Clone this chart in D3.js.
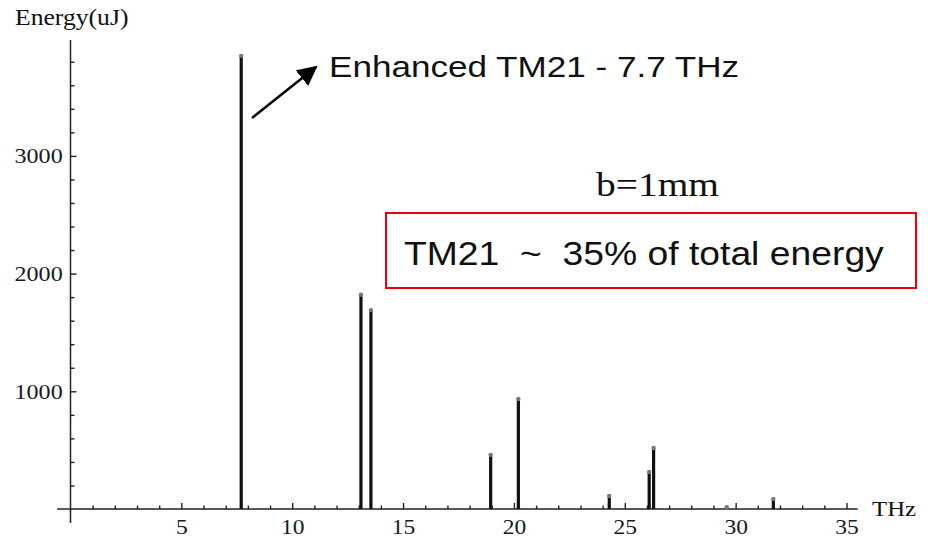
<!DOCTYPE html>
<html>
<head>
<meta charset="utf-8">
<script src="https://cdn.jsdelivr.net/npm/d3@7"></script>
<style>
  html, body { margin: 0; padding: 0; background: #fff; }
  svg { display: block; }
  text { white-space: pre; }
</style>
</head>
<body>
<script>
// ---- data ----
const freqs    = [7.7, 13.1, 13.55, 18.95, 20.2, 24.3, 26.1, 26.3, 29.6, 31.7];
const energies = [3850, 1820, 1690, 460, 935, 110, 314, 518, 15, 85];
const xMajorTicks = [5, 10, 15, 20, 25, 30, 35];
const xMinorTicks = [1,2,3,4,6,7,8,9,11,12,13,14,16,17,18,19,21,22,23,24,26,27,28,29,31,32,33,34];
const yMajorTicks = [1000, 2000, 3000];
const yMinorTicks = [200,400,600,800,1200,1400,1600,1800,2200,2400,2600,2800,3200,3400,3600,3800];
const yLabel = "Energy(uJ)";
const xLabel = "THz";
const annoPeak = "Enhanced TM21 - 7.7 THz";
const annoB = "b=1mm";
const annoBox = "TM21  ~  35% of total energy";

const W = 928, H = 538;
const SX = 1.12; // horizontal stretch of the original picture

const svg = d3.select("body").append("svg").attr("width", W).attr("height", H);

const x = d3.scaleLinear().domain([0, 35]).range([70.5, 846.5]);
const y = d3.scaleLinear().domain([0, 4000]).range([509, 38.2]);

const axisColor = "#222";
const serif = "'Liberation Serif', 'Times New Roman', serif";
const sans = "'Liberation Sans', Arial, sans-serif";

// axis lines
svg.append("line")
  .attr("x1", x(-0.6)).attr("x2", x(35.5))
  .attr("y1", y(0)).attr("y2", y(0))
  .attr("stroke", axisColor).attr("stroke-width", 1.5);
svg.append("line")
  .attr("x1", x(0)).attr("x2", x(0))
  .attr("y1", y(0) + 14).attr("y2", y(3985))
  .attr("stroke", axisColor).attr("stroke-width", 1.5);

// x axis ticks
const gx = svg.append("g").attr("transform", `translate(0,${y(0)})`);
gx.call(d3.axisBottom(x).tickValues(xMinorTicks).tickSize(-3.5).tickSizeOuter(0).tickFormat(""));
gx.call(g => g.select(".domain").remove());
const gx2 = svg.append("g").attr("transform", `translate(0,${y(0)})`);
gx2.call(d3.axisBottom(x).tickValues(xMajorTicks).tickSize(-6).tickSizeOuter(0).tickPadding(10).tickFormat(d3.format("d")));
gx2.call(g => g.select(".domain").remove());
[gx, gx2].forEach(g => g.selectAll(".tick line").attr("stroke", axisColor).attr("stroke-width", 1.4));
gx2.selectAll(".tick text")
  .attr("font-family", serif).attr("font-size", 21).attr("fill", "#1a1a1a")
  .attr("transform", `scale(${SX},1)`);

// y axis ticks
const gy = svg.append("g").attr("transform", `translate(${x(0)},0)`);
gy.call(d3.axisLeft(y).tickValues(yMinorTicks).tickSize(-4).tickSizeOuter(0).tickFormat(""));
gy.call(g => g.select(".domain").remove());
const gy2 = svg.append("g").attr("transform", `translate(${x(0)},0)`);
gy2.call(d3.axisLeft(y).tickValues(yMajorTicks).tickSize(-6).tickSizeOuter(0).tickPadding(7).tickFormat(d3.format("d")));
gy2.call(g => g.select(".domain").remove());
[gy, gy2].forEach(g => g.selectAll(".tick line").attr("stroke", axisColor).attr("stroke-width", 1.4));
gy2.selectAll(".tick text")
  .attr("font-family", serif).attr("font-size", 21.5).attr("fill", "#1a1a1a")
  .attr("transform", `scale(${SX},1)`);

// bars (stems)
svg.append("g").selectAll("line.bar")
  .data(freqs.map((f, i) => ({ f, e: energies[i] })))
  .join("line").attr("class", "bar")
  .attr("x1", d => x(d.f)).attr("x2", d => x(d.f))
  .attr("y1", y(0)).attr("y2", d => y(d.e))
  .attr("stroke", "#111").attr("stroke-width", 3.2);
svg.append("g").selectAll("circle.cap")
  .data(freqs.map((f, i) => ({ f, e: energies[i] })))
  .join("circle").attr("class", "cap")
  .attr("cx", d => x(d.f)).attr("cy", d => y(d.e))
  .attr("r", 2.2).attr("fill", "#777");

// helper for stretched text
function stext(str, tx, ty, size, family, anchor, sx) {
  return svg.append("text")
    .attr("transform", `translate(${tx},${ty}) scale(${sx},1)`)
    .attr("font-family", family).attr("font-size", size)
    .attr("text-anchor", anchor || "start")
    .attr("fill", "#111")
    .attr("xml:space", "preserve")
    .text(str);
}

// axis labels
stext(yLabel, 15, 25, 22.5, serif, "start", 1.14);
stext(xLabel, 872, 516, 21, serif, "start", SX + 0.06);

// arrow
const defs = svg.append("defs");
defs.append("marker")
  .attr("id", "arr").attr("viewBox", "0 0 10 10")
  .attr("refX", 9).attr("refY", 5)
  .attr("markerWidth", 20).attr("markerHeight", 20)
  .attr("markerUnits", "userSpaceOnUse")
  .attr("orient", "auto")
  .append("path").attr("d", "M0,0 L10,5 L0,10 Z").attr("fill", "#000");
svg.append("line")
  .attr("x1", 252).attr("y1", 118).attr("x2", 316).attr("y2", 67)
  .attr("stroke", "#000").attr("stroke-width", 2.4)
  .attr("marker-end", "url(#arr)");

// annotations
stext(annoPeak, 329, 77, 30, sans, "start", 1.17);
stext(annoB, 596, 196, 34, serif, "start", 1.16);
svg.append("rect")
  .attr("x", 386).attr("y", 213).attr("width", 530).attr("height", 75)
  .attr("fill", "none").attr("stroke", "#e8000b").attr("stroke-width", 2);
stext(annoBox, 404, 265, 33, sans, "start", 1.13);
</script>
</body>
</html>
